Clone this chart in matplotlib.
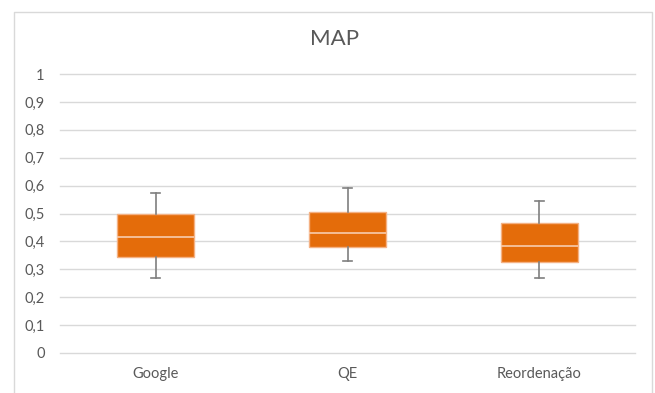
import matplotlib
matplotlib.use("Agg")
import matplotlib.pyplot as plt
from matplotlib.lines import Line2D
from matplotlib.ticker import FuncFormatter

categories = ["Google", "QE", "Reordenação"]
whisker_low = [0.27, 0.33, 0.27]
q1 = [0.345, 0.38, 0.325]
median = [0.415, 0.43, 0.385]
q3 = [0.50, 0.505, 0.465]
whisker_high = [0.575, 0.59, 0.545]
yticks = [0, 0.1, 0.2, 0.3, 0.4, 0.5, 0.6, 0.7, 0.8, 0.9, 1.0]

plt.rcParams['font.family'] = ['Lato', 'DejaVu Sans']

fig = plt.figure(figsize=(6.55, 3.93), dpi=100)
fig.patch.set_facecolor('white')
ax = fig.add_axes([60/655, 1-353/393, 575/655, 279/393])

stats = []
for i, c in enumerate(categories):
    stats.append(dict(label=c, whislo=whisker_low[i], q1=q1[i], med=median[i],
                      q3=q3[i], whishi=whisker_high[i], fliers=[]))

ax.bxp(stats, positions=range(len(categories)), widths=0.40, capwidths=0.047,
       showfliers=False, patch_artist=True,
       boxprops=dict(facecolor='#E46C0A', edgecolor='#F4B183', linewidth=1.0),
       medianprops=dict(color='#F8CBAD', linewidth=1.2),
       whiskerprops=dict(color='#7F7F7F', linewidth=1.2),
       capprops=dict(color='#7F7F7F', linewidth=1.2), zorder=3)

ax.set_xlim(-0.5, len(categories) - 0.5)
ax.set_ylim(0, 1)
ax.set_yticks(yticks)
ax.yaxis.set_major_formatter(FuncFormatter(lambda v, p: ('%g' % round(v, 1)).replace('.', ',')))
ax.grid(axis='y', color='#D9D9D9', linewidth=1.0, zorder=0)
ax.set_axisbelow(True)
for s in ax.spines.values():
    s.set_visible(False)
ax.tick_params(axis='both', length=0, labelsize=10.5, labelcolor='#595959')
ax.tick_params(axis='y', pad=11)
ax.tick_params(axis='x', pad=10)
ax.set_xticks(range(len(categories)))
ax.set_xticklabels(categories)
for line in ax.get_ygridlines():
    line.set_clip_on(False)

fig.text(335/655, 1-39/393, "MAP", ha='center', va='center', fontsize=16, color='#595959')

# chart border (left, top, right; bottom lies outside the image)
x0, x1 = 13.5/655, 651.5/655
y0, y1 = -0.02, 1-11.5/393
fig.lines.append(Line2D([x0, x0, x1, x1], [y0, y1, y1, y0], transform=fig.transFigure,
                        color='#D9D9D9', linewidth=1.0))

fig.savefig("out.png", dpi=100)
